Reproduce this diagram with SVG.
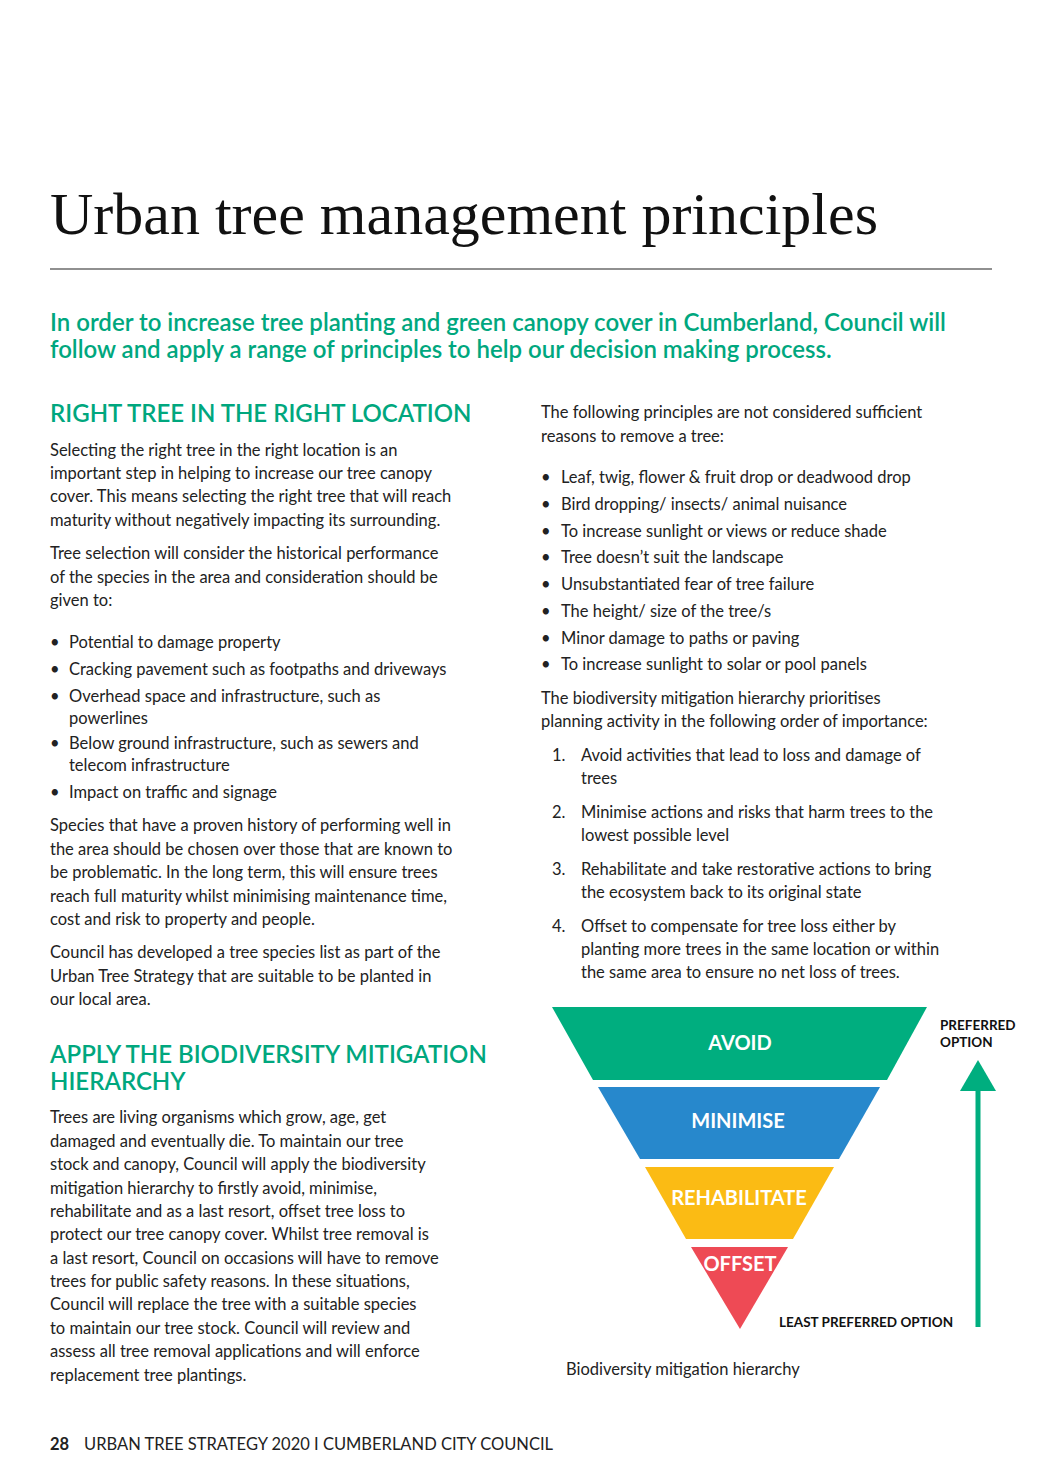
<svg xmlns="http://www.w3.org/2000/svg" width="1041" height="1484" viewBox="0 0 1041 1484">
<style>
.b{font-family:"Lato","Liberation Sans",sans-serif;font-size:16.5px;fill:#222}
.h{font-family:"Lato","Liberation Sans",sans-serif;font-size:24px;fill:#00a77e;font-weight:600}
.l{font-family:"Lato","Liberation Sans",sans-serif;font-size:20px;fill:#fff;font-weight:700;text-anchor:middle}
.s{font-family:"Lato","Liberation Sans",sans-serif;font-size:13.5px;fill:#111;font-weight:700}
</style>
<rect width="1041" height="1484" fill="#fff"/>
<text x="50" y="234" font-family="Liberation Serif,serif" font-size="60" fill="#111">Urban tree management principles</text>
<line x1="50" y1="269" x2="992" y2="269" stroke="#222" stroke-width="1.2"/>
<text class="h" font-size="24.5"><tspan x="50" y="331">In order to increase tree planting and green canopy cover in Cumberland, Council will</tspan><tspan x="50" y="358">follow and apply a range of principles to help our decision making process.</tspan></text>
<text class="h" x="50" y="422">RIGHT TREE IN THE RIGHT LOCATION</text>
<text class="b"><tspan x="50" y="456">Selecting the right tree in the right location is an</tspan><tspan x="50" y="479">important step in helping to increase our tree canopy</tspan><tspan x="50" y="502">cover. This means selecting the right tree that will reach</tspan><tspan x="50" y="526">maturity without negatively impacting its surrounding.</tspan>
<tspan x="50" y="559">Tree selection will consider the historical performance</tspan><tspan x="50" y="583">of the species in the area and consideration should be</tspan><tspan x="50" y="606">given to:</tspan>
<tspan x="50" y="648">•</tspan><tspan x="69" y="648">Potential to damage property</tspan>
<tspan x="50" y="675">•</tspan><tspan x="69" y="675">Cracking pavement such as footpaths and driveways</tspan>
<tspan x="50" y="702">•</tspan><tspan x="69" y="702">Overhead space and infrastructure, such as</tspan><tspan x="69" y="724">powerlines</tspan>
<tspan x="50" y="749">•</tspan><tspan x="69" y="749">Below ground infrastructure, such as sewers and</tspan><tspan x="69" y="771">telecom infrastructure</tspan>
<tspan x="50" y="798">•</tspan><tspan x="69" y="798">Impact on traffic and signage</tspan>
<tspan x="50" y="831">Species that have a proven history of performing well in</tspan><tspan x="50" y="855">the area should be chosen over those that are known to</tspan><tspan x="50" y="878">be problematic. In the long term, this will ensure trees</tspan><tspan x="50" y="902">reach full maturity whilst minimising maintenance time,</tspan><tspan x="50" y="925">cost and risk to property and people.</tspan>
<tspan x="50" y="958">Council has developed a tree species list as part of the</tspan><tspan x="50" y="982">Urban Tree Strategy that are suitable to be planted in</tspan><tspan x="50" y="1005">our local area.</tspan></text>
<text class="h"><tspan x="50" y="1063">APPLY THE BIODIVERSITY MITIGATION</tspan><tspan x="50" y="1090">HIERARCHY</tspan></text>
<text class="b"><tspan x="50" y="1123">Trees are living organisms which grow, age, get</tspan><tspan x="50" y="1147">damaged and eventually die. To maintain our tree</tspan><tspan x="50" y="1170">stock and canopy, Council will apply the biodiversity</tspan><tspan x="50" y="1194">mitigation hierarchy to firstly avoid, minimise,</tspan><tspan x="50" y="1217">rehabilitate and as a last resort, offset tree loss to</tspan><tspan x="50" y="1240">protect our tree canopy cover. Whilst tree removal is</tspan><tspan x="50" y="1264">a last resort, Council on occasions will have to remove</tspan><tspan x="50" y="1287">trees for public safety reasons. In these situations,</tspan><tspan x="50" y="1310">Council will replace the tree with a suitable species</tspan><tspan x="50" y="1334">to maintain our tree stock. Council will review and</tspan><tspan x="50" y="1357">assess all tree removal applications and will enforce</tspan><tspan x="50" y="1381">replacement tree plantings.</tspan></text>
<text class="b"><tspan x="541" y="418">The following principles are not considered sufficient</tspan><tspan x="541" y="442">reasons to remove a tree:</tspan>
<tspan x="541" y="483">•</tspan><tspan x="561" y="483">Leaf, twig, flower &amp; fruit drop or deadwood drop</tspan>
<tspan x="541" y="510">•</tspan><tspan x="561" y="510">Bird dropping/ insects/ animal nuisance</tspan>
<tspan x="541" y="537">•</tspan><tspan x="561" y="537">To increase sunlight or views or reduce shade</tspan>
<tspan x="541" y="563">•</tspan><tspan x="561" y="563">Tree doesn’t suit the landscape</tspan>
<tspan x="541" y="590">•</tspan><tspan x="561" y="590">Unsubstantiated fear of tree failure</tspan>
<tspan x="541" y="617">•</tspan><tspan x="561" y="617">The height/ size of the tree/s</tspan>
<tspan x="541" y="644">•</tspan><tspan x="561" y="644">Minor damage to paths or paving</tspan>
<tspan x="541" y="670">•</tspan><tspan x="561" y="670">To increase sunlight to solar or pool panels</tspan>
<tspan x="541" y="704">The biodiversity mitigation hierarchy prioritises</tspan><tspan x="541" y="727">planning activity in the following order of importance:</tspan>
<tspan x="552" y="761">1.</tspan><tspan x="581" y="761">Avoid activities that lead to loss and damage of</tspan><tspan x="581" y="784">trees</tspan>
<tspan x="552" y="818">2.</tspan><tspan x="581" y="818">Minimise actions and risks that harm trees to the</tspan><tspan x="581" y="841">lowest possible level</tspan>
<tspan x="552" y="875">3.</tspan><tspan x="581" y="875">Rehabilitate and take restorative actions to bring</tspan><tspan x="581" y="898">the ecosystem back to its original state</tspan>
<tspan x="552" y="932">4.</tspan><tspan x="581" y="932">Offset to compensate for tree loss either by</tspan><tspan x="581" y="955">planting more trees in the same location or within</tspan><tspan x="581" y="978">the same area to ensure no net loss of trees.</tspan></text>
<g id="avoid"><polygon points="552,1007 927,1007 887,1080 593,1080" fill="#00ae7f"/><text class="l" x="740" y="1050">AVOID</text></g>
<g id="minimise"><polygon points="598,1087 880,1087 839,1159 640,1159" fill="#2788cc"/><text class="l" x="738" y="1128">MINIMISE</text></g>
<g id="rehabilitate"><polygon points="645,1167 834,1167 793,1239 686,1239" fill="#fbbb14"/><text class="l" x="739" y="1205">REHABILITATE</text></g>
<g id="offset"><polygon points="691,1247 788,1247 740,1329" fill="#ee4a55"/><text class="l" x="740" y="1271">OFFSET</text></g>
<g id="connectors"><line x1="978" y1="1327" x2="978" y2="1088" stroke="#00ae7f" stroke-width="5"/><polygon points="978,1060 960,1091 996,1091" fill="#00ae7f"/></g>
<text class="s"><tspan x="940" y="1030">PREFERRED</tspan><tspan x="940" y="1047">OPTION</tspan></text>
<text class="s" x="779" y="1327">LEAST PREFERRED OPTION</text>
<text class="b" x="566" y="1375" font-size="15">Biodiversity mitigation hierarchy</text>
<text class="b" font-size="13.5" y="1450"><tspan x="50" font-weight="700">28</tspan><tspan x="84">URBAN TREE STRATEGY 2020  I  CUMBERLAND CITY COUNCIL</tspan></text>
</svg>
